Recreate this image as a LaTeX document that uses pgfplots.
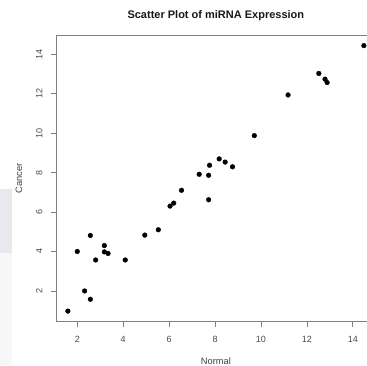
\documentclass[border=0pt]{standalone}
\usepackage{pgfplots}
\pgfplotsset{compat=1.18}
\usepackage{fontspec}
\setmainfont{Liberation Sans}
\definecolor{sidebox}{RGB}{232,233,239}
\definecolor{sidestrip}{RGB}{247,247,249}
\begin{document}
\begin{tikzpicture}
\useasboundingbox (0,0) rectangle (367pt,365pt);
\clip (0,0) rectangle (367pt,365pt);
\fill[white] (0,0) rectangle (367pt,365pt);
\fill[sidebox] (0,112pt) rectangle (11.5pt,176pt);
\fill[sidestrip] (0,0) rectangle (11.5pt,112pt);
\begin{axis}[
  at={(56pt,43.3pt)}, anchor=south west,
  scale only axis, width=319.7pt, height=286.7pt,
  xmin=1.074, xmax=14.996, ymin=0.442, ymax=14.968,
  xtick={2,4,...,14}, ytick={2,4,...,14},
  tick pos=left,
  tick align=outside, major tick length=5pt,
  axis line style={black!50, line width=0.8pt},
  every tick/.style={black!50, line width=0.8pt},
  tick label style={font=\fontsize{9}{10}\selectfont, text=black!70},
  /pgf/number format/assume math mode=true,
  xticklabel shift=6pt,
  yticklabel shift=5pt,
  yticklabel style={rotate=90, anchor=south},
  title={Scatter Plot of miRNA Expression},
  title style={at={(axis description cs:0.5,1.047)}, anchor=center, font=\fontsize{11}{13}\selectfont\bfseries, text=black!90},
  xlabel={Normal},
  xlabel style={at={(axis description cs:0.5,-0.137)}, anchor=center, font=\fontsize{9.3}{11}\selectfont, text=black!75},
  ylabel={Cancer},
  ylabel style={at={(axis description cs:-0.1157,0.5)}, anchor=center, font=\fontsize{9.3}{11}\selectfont, text=black!75},
]
\addplot[only marks, mark=*, mark size=2.35pt, black] table {
x y
1.59 0.98
2.00 4.00
2.32 2.00
2.57 1.58
2.57 4.81
2.80 3.57
3.18 4.30
3.18 3.98
3.34 3.90
4.09 3.57
4.94 4.83
5.53 5.10
6.04 6.30
6.20 6.45
6.54 7.10
7.31 7.91
7.72 7.86
7.72 6.62
7.76 8.37
8.18 8.69
8.44 8.53
8.76 8.29
9.71 9.87
11.18 11.93
12.52 13.02
12.79 12.73
12.88 12.56
14.48 14.43
};
\end{axis}
\end{tikzpicture}
\end{document}
